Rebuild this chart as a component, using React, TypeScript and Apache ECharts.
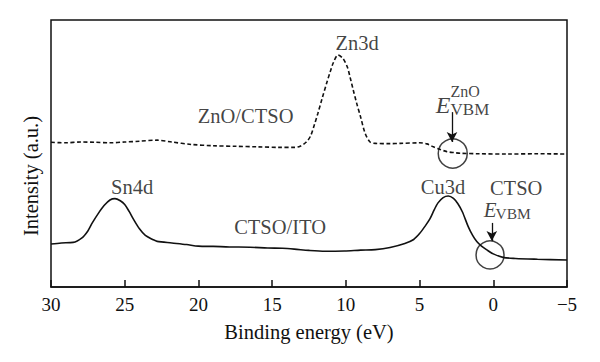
import React, { useEffect, useRef } from "react";
import * as echarts from "echarts";

const X_MIN = -5;
const X_MAX = 30;
const X_INTERVAL = 5;

// ZnO/CTSO spectrum (dashed, upper)
const znoEnergy = [30, 29, 28, 27, 26, 25, 24, 22.8, 21.8, 20.5, 19, 17.5, 16, 14.5, 13.5, 13.1, 12.7, 12.4, 12.15, 11.9, 11.6, 11.3, 11.05, 10.85, 10.53, 10.2, 9.9, 9.7, 9.5, 9.25, 9.0, 8.7, 8.36, 8.0, 7.0, 6.3, 5.0, 4.5, 4.1, 3.6, 3.15, 2.6, 2.25, 1.0, -1, -3, -5];
const znoIntensity = [54.2, 54.0, 54.3, 54.2, 54.0, 54.3, 54.6, 55.0, 54.3, 53.4, 52.9, 52.7, 52.5, 52.3, 52.3, 52.7, 54.2, 56.5, 60.5, 65, 70.8, 76.4, 80.8, 84, 86.9, 85.6, 82.4, 78.3, 73.8, 68.5, 63.7, 57.7, 54.3, 53.8, 53.7, 53.8, 54.0, 53.6, 52.6, 51.5, 50.7, 50.3, 50.1, 49.9, 49.8, 49.9, 49.8];

// CTSO/ITO spectrum (solid, lower)
const ctsoEnergy = [30, 29.3, 28.5, 27.9, 27.5, 27.2, 26.8, 26.4, 26.0, 25.66, 25.3, 25.0, 24.7, 24.4, 24.0, 23.6, 23.1, 22.8, 21.8, 20.8, 20.0, 19, 17.9, 16.5, 15.3, 14.3, 13.5, 12.5, 11.4, 10.1, 9, 8, 7.0, 6.0, 5.4, 5.0, 4.6, 4.3, 4.0, 3.75, 3.4, 3.05, 2.7, 2.4, 2.1, 1.7, 1.4, 1.12, 0.8, 0.44, 0, -0.66, -1.5, -3, -5];
const ctsoIntensity = [16.1, 16.5, 16.7, 18.4, 21, 24, 27.5, 30.5, 32.6, 33.1, 32.3, 30.9, 28.3, 25.3, 21.8, 19.3, 17.8, 17.1, 16.5, 15.9, 15.3, 15.2, 15.0, 14.9, 14.6, 14.5, 14.2, 13.7, 13.4, 13.5, 13.8, 14.0, 14.8, 16.3, 17.8, 20, 23, 25.5, 29, 31.5, 33.5, 34.1, 33.2, 31.2, 28.2, 22.6, 19.3, 17, 15.3, 13.9, 12.4, 11.1, 10.7, 10.4, 10.1];

// Peak / curve labels (data coordinates)
const labelTexts = ["Zn3d", "ZnO/CTSO", "Sn4d", "CTSO/ITO", "Cu3d", "CTSO"];
const labelEnergy = [9.24, 16.8, 24.5, 14.46, 3.41, -1.55];
const labelIntensity = [91.4, 64, 37.6, 22.5, 37.5, 37.1];

// VBM circles
const circleEnergy = [2.75, 0.22];
const circleIntensity = [50.0, 12.0];

// VBM arrows [energy, from, to]
const arrowEnergy = [2.8, 0.1];
const arrowFrom = [65.5, 24];
const arrowTo = [54.3, 17.2];

const FONT = "Liberation Serif, serif";
const INK = "#111";

export default function App() {
  const ref = useRef<HTMLDivElement>(null);

  useEffect(() => {
    if (!ref.current) return;
    const chart = echarts.init(ref.current, undefined, { renderer: "svg" });

    const textItem = (
      x: number,
      y: number,
      text: string,
      size: number,
      extra: any = {}
    ) => ({
      value: [x, y],
      label: {
        show: true,
        position: extra.position || "inside",
        distance: 0,
        formatter: text,
        color: INK,
        fontFamily: FONT,
        fontSize: size,
        fontStyle: extra.fontStyle || "normal",
      },
    });

    const textData: any[] = labelTexts.map((t, i) =>
      textItem(labelEnergy[i], labelIntensity[i], t, 20.5)
    );
    // E^ZnO_VBM
    textData.push(textItem(3.41, 68.2, "E", 24, { fontStyle: "italic" }));
    textData.push(textItem(2.93, 73.2, "ZnO", 16, { position: "right" }));
    textData.push(textItem(2.93, 66.3, "VBM", 17, { position: "right" }));
    // E_VBM
    textData.push(textItem(0.22, 28.8, "E", 21, { fontStyle: "italic" }));
    textData.push(textItem(-0.12, 27.7, "VBM", 15.5, { position: "right" }));

    chart.setOption({
      animation: false,
      backgroundColor: "#fff",
      textStyle: { fontFamily: FONT },
      grid: {
        left: 51,
        right: 33,
        top: 20,
        bottom: 75,
        show: true,
        borderColor: INK,
        borderWidth: 1.5,
        backgroundColor: "transparent",
      },
      xAxis: {
        type: "value",
        min: X_MIN,
        max: X_MAX,
        interval: X_INTERVAL,
        inverse: true,
        name: "Binding energy (eV)",
        nameLocation: "middle",
        nameGap: 34,
        nameTextStyle: { fontFamily: FONT, fontSize: 20.5, color: INK },
        axisLine: { show: true, lineStyle: { color: INK, width: 1.5 } },
        axisTick: { show: true, inside: true, length: 7, lineStyle: { color: INK, width: 1.5 } },
        axisLabel: {
          fontFamily: FONT,
          fontSize: 19,
          color: INK,
          margin: 8,
          formatter: (v: number) => (v < 0 ? "\u2212" + Math.abs(v) : String(v)),
        },
        splitLine: { show: false },
      },
      yAxis: {
        type: "value",
        min: 0,
        max: 100,
        show: false,
        splitLine: { show: false },
      },
      graphic: [
        {
          type: "text",
          x: 31,
          y: 176,
          rotation: Math.PI / 2,
          style: {
            text: "Intensity (a.u.)",
            fontFamily: FONT,
            fontSize: 20.5,
            fill: INK,
            align: "center",
            verticalAlign: "middle",
          },
        },
      ],
      series: [
        {
          name: "ZnO/CTSO",
          type: "line",
          data: znoEnergy.map((e, i) => [e, znoIntensity[i]]),
          symbol: "none",
          smooth: 0.3,
          silent: true,
          lineStyle: { color: INK, width: 1.6, type: [4, 2.5] },
        },
        {
          name: "CTSO/ITO",
          type: "line",
          data: ctsoEnergy.map((e, i) => [e, ctsoIntensity[i]]),
          symbol: "none",
          smooth: 0.3,
          silent: true,
          lineStyle: { color: INK, width: 1.6, type: "solid" },
        },
        {
          name: "circles",
          type: "scatter",
          silent: true,
          symbol: "circle",
          data: circleEnergy.map((e, i) => ({
            value: [e, circleIntensity[i]],
            symbolSize: i === 0 ? 29 : 28,
          })),
          itemStyle: { color: "rgba(0,0,0,0)", borderColor: INK, borderWidth: 1.5 },
          markLine: {
            silent: true,
            symbol: ["none", "arrow"],
            symbolSize: [8, 10],
            label: { show: false },
            lineStyle: { color: INK, width: 1.3, type: "solid" },
            data: arrowEnergy.map((e, i) => [
              { coord: [e, arrowFrom[i]] },
              { coord: [e, arrowTo[i]] },
            ]),
          },
        },
        {
          name: "labels",
          type: "scatter",
          silent: true,
          symbolSize: 1,
          itemStyle: { color: "rgba(0,0,0,0)" },
          data: textData,
        },
      ],
    });

    return () => chart.dispose();
  }, []);

  return (
    <div
      ref={ref}
      style={{ position: "absolute", left: 0, top: 0, width: 600, height: 362 }}
    />
  );
}
